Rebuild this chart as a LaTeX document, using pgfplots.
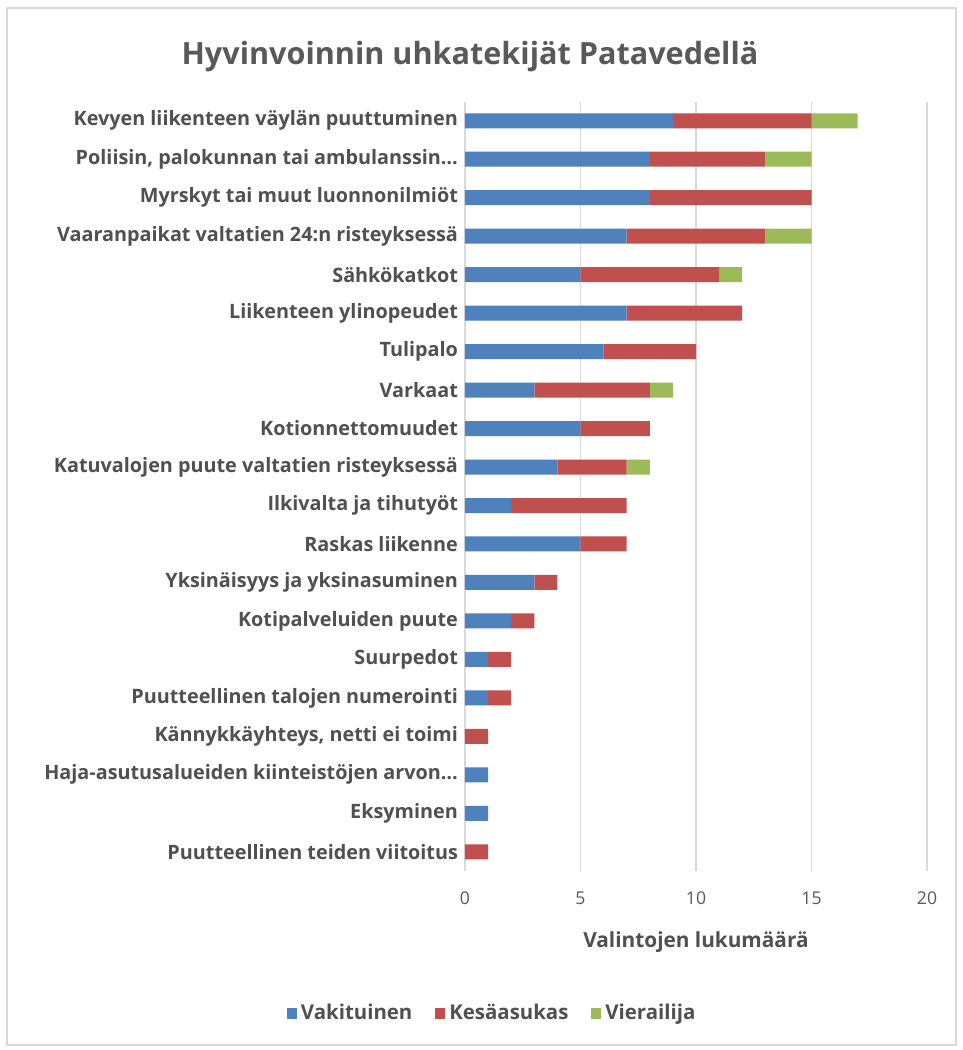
\documentclass[border=0pt]{standalone}
\usepackage{fontspec}
\setmainfont{Open Sans}
\usepackage{pgfplots}
\pgfplotsset{compat=1.18}
\definecolor{xblue}{RGB}{79,129,189}
\definecolor{xred}{RGB}{192,80,77}
\definecolor{xgreen}{RGB}{155,187,89}
\definecolor{gridgray}{RGB}{217,217,217}
\definecolor{txtgray}{RGB}{89,89,89}
\definecolor{lblgray}{RGB}{80,80,80}

% rows top to bottom: vakituinen, kesaasukas, vierailija
\pgfplotstableread{
y vak kes vie
0 9 6 2
1 8 5 2
2 8 7 0
3 7 6 2
4 5 6 1
5 7 5 0
6 6 4 0
7 3 5 1
8 5 3 0
9 4 3 1
10 2 5 0
11 5 2 0
12 3 1 0
13 2 1 0
14 1 1 0
15 1 1 0
16 0 1 0
17 1 0 0
18 1 0 0
19 0 1 0
}\datatable

\begin{document}
\begin{tikzpicture}
% page frame, 1 px = 0.5pt
\fill[white] (0,0) rectangle (481.5pt,-525pt);
\draw[gridgray, line width=0.8pt] (3.5pt,-4pt) rectangle (478pt,-522.5pt);
\node[text=txtgray, font=\fontsize{15.3}{17}\selectfont\bfseries] at (235pt,-28.5pt) {Hyvinvoinnin uhkatekijät Patavedellä};
\begin{axis}[
    at={(232.5pt,-435.5pt)}, anchor=south west,
    scale only axis,
    width=231pt, height=384.75pt,
    xbar stacked,
    bar width=7.5pt,
    xmin=0, xmax=20,
    ymin=-0.5, ymax=19.5,
    y dir=reverse,
    xtick={0,5,10,15,20},
    ytick={0,...,19},
    yticklabels={
        Kevyen liikenteen väylän puuttuminen,
        {Poliisin, palokunnan tai ambulanssin…},
        Myrskyt tai muut luonnonilmiöt,
        Vaaranpaikat valtatien 24:n risteyksessä,
        Sähkökatkot,
        Liikenteen ylinopeudet,
        Tulipalo,
        Varkaat,
        Kotionnettomuudet,
        Katuvalojen puute valtatien risteyksessä,
        Ilkivalta ja tihutyöt,
        Raskas liikenne,
        Yksinäisyys ja yksinasuminen,
        Kotipalveluiden puute,
        Suurpedot,
        Puutteellinen talojen numerointi,
        {Kännykkäyhteys, netti ei toimi},
        Haja-asutusalueiden kiinteistöjen arvon…,
        Eksyminen,
        Puutteellinen teiden viitoitus
    },
    yticklabel style={font=\fontsize{9.9}{11}\selectfont\bfseries, text=lblgray},
    xticklabel style={font=\fontsize{8.8}{10}\selectfont, text=txtgray, yshift=-7pt},
    /pgf/number format/assume math mode=true,
    major tick length=0pt,
    xmajorgrids,
    grid style={gridgray, line width=0.6pt},
    axis line style={draw=none},
    xlabel={Valintojen lukumäärä},
    xlabel style={font=\fontsize{10.4}{12}\selectfont\bfseries, text=lblgray, at={(0.5,-0.092)}, anchor=center},
    legend style={at={(0.061,-0.185)}, anchor=center, draw=none, legend columns=-1,
        font=\fontsize{10.2}{12}\selectfont\bfseries, text=lblgray,
        /tikz/every even column/.append style={column sep=9.5pt}},
    legend image code/.code={\fill[#1] (0pt,-2.6pt) rectangle (5pt,2.6pt);},
]
\addplot[fill=xblue, draw=none] table[x=vak, y=y] {\datatable};
\addplot[fill=xred, draw=none] table[x=kes, y=y] {\datatable};
\addplot[fill=xgreen, draw=none] table[x=vie, y=y] {\datatable};
\legend{Vakituinen, Kesäasukas, Vierailija}
\end{axis}
\end{tikzpicture}
\end{document}
